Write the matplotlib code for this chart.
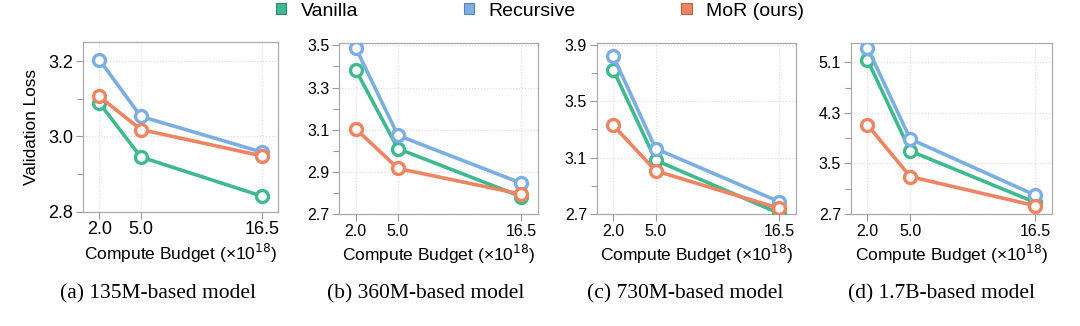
import matplotlib.pyplot as plt
from matplotlib.patches import Patch
from matplotlib.ticker import FixedLocator
import numpy as np

plt.rcParams['font.family'] = ['Liberation Sans', 'DejaVu Sans']

COMPUTE = [2.0, 5.0, 16.5]
COMPUTE_LABELS = ["2.0", "5.0", "16.5"]

SERIES_NAMES = ["Vanilla", "Recursive", "MoR (ours)"]
COLORS = ['#3fba8e', '#7baee3', '#ee8461']
EDGE_COLORS = ['#2f8a68', '#5a83ad', '#b8654a']

# validation loss per model size: vanilla, recursive, MoR
LOSS_135M = [[3.089, 2.945, 2.841], [3.204, 3.053, 2.958], [3.106, 3.018, 2.948]]
LOSS_360M = [[3.385, 3.010, 2.782], [3.490, 3.073, 2.846], [3.105, 2.916, 2.794]]
LOSS_730M = [[3.721, 3.081, 2.705], [3.818, 3.164, 2.787], [3.328, 3.006, 2.740]]
LOSS_1_7B = [[5.137, 3.697, 2.885], [5.332, 3.887, 3.000], [4.108, 3.291, 2.832]]

CAPTIONS = ["(a) 135M-based model", "(b) 360M-based model",
            "(c) 730M-based model", "(d) 1.7B-based model"]

W, H = 1080, 326

# (left, right, top, bottom) in pixels
panels = [
    dict(data=LOSS_135M, box=(83, 278, 42.3, 211.5), ylim=(2.8, 3.25),
         major=[2.8, 3.0, 3.2], minor=[2.9, 3.1], fmt="%.1f", tick_fs=13, cap_x=157.5),
    dict(data=LOSS_360M, box=(339, 538, 43.3, 214), ylim=(2.7, 3.51),
         major=[2.7, 2.9, 3.1, 3.3, 3.5], minor=[2.8, 3.0, 3.2, 3.4], fmt="%.1f", tick_fs=11.5, cap_x=426),
    dict(data=LOSS_730M, box=(596.7, 795.7, 43.3, 214), ylim=(2.7, 3.91),
         major=[2.7, 3.1, 3.5, 3.9], minor=[2.9, 3.3, 3.7], fmt="%.1f", tick_fs=11.5, cap_x=685),
    dict(data=LOSS_1_7B, box=(850.7, 1051.7, 43.3, 214), ylim=(2.7, 5.4),
         major=[2.7, 3.5, 4.3, 5.1], minor=[3.1, 3.9, 4.7], fmt="%.1f", tick_fs=11.5, cap_x=941.5),
]

fig = plt.figure(figsize=(W / 100, H / 100), dpi=100)

power = 0.75
fwd = lambda x: np.sign(x) * np.abs(x) ** power
inv = lambda x: np.sign(x) * np.abs(x) ** (1 / power)

for i, p in enumerate(panels):
    l, r, t, b = p['box']
    ax = fig.add_axes([l / W, 1 - b / H, (r - l) / W, (b - t) / H])
    ax.set_xscale('function', functions=(fwd, inv))

    for k in range(3):
        ax.plot(COMPUTE, p['data'][k], color=COLORS[k], lw=2.6,
                marker='o', markersize=8.6, markerfacecolor='white',
                markeredgewidth=2.4, markeredgecolor=COLORS[k], zorder=3 + k)

    lo, hi = fwd(COMPUTE[0]), fwd(COMPUTE[-1])
    pad = 0.1 * (hi - lo)
    ax.set_xlim(inv(lo - pad), inv(hi + pad))
    ax.set_ylim(*p['ylim'])

    ax.xaxis.set_major_locator(FixedLocator(COMPUTE))
    ax.set_xticklabels(COMPUTE_LABELS)
    ax.xaxis.set_minor_locator(FixedLocator([]))
    ax.yaxis.set_major_locator(FixedLocator(p['major']))
    ax.yaxis.set_minor_locator(FixedLocator(p['minor']))
    ax.set_yticklabels([p['fmt'] % v for v in p['major']])

    ax.tick_params(which='both', direction='out', color='#9a9a9a', width=0.8)
    ax.tick_params(which='major', length=5, labelsize=p['tick_fs'], pad=2)
    ax.tick_params(which='minor', length=4)
    ax.grid(True, which='major', linestyle=':', color='#dcdcdc', linewidth=0.8)
    for s in ax.spines.values():
        s.set_color('#aaaaaa')
        s.set_linewidth(0.9)

    ax.set_xlabel("Compute Budget (×10$^{18}$)", fontsize=12.5, labelpad=3)
    if i == 0:
        ax.set_ylabel("Validation Loss", fontsize=12.4, labelpad=7)

    fig.text(p['cap_x'] / W, 1 - 294 / H, CAPTIONS[i], ha='center', va='center',
             fontsize=15.5, family=['Liberation Serif', 'DejaVu Serif'])

handles = [Patch(facecolor=c, edgecolor=e, linewidth=0.8) for c, e in zip(COLORS, EDGE_COLORS)]
fig.legend(handles, SERIES_NAMES, loc='center', bbox_to_anchor=(0.5, 1 - 11 / H),
           ncol=3, frameon=False, fontsize=14, handlelength=0.55, handleheight=0.55,
           handletextpad=0.75, columnspacing=5.4, borderpad=0)

fig.savefig('out.png', dpi=100)
